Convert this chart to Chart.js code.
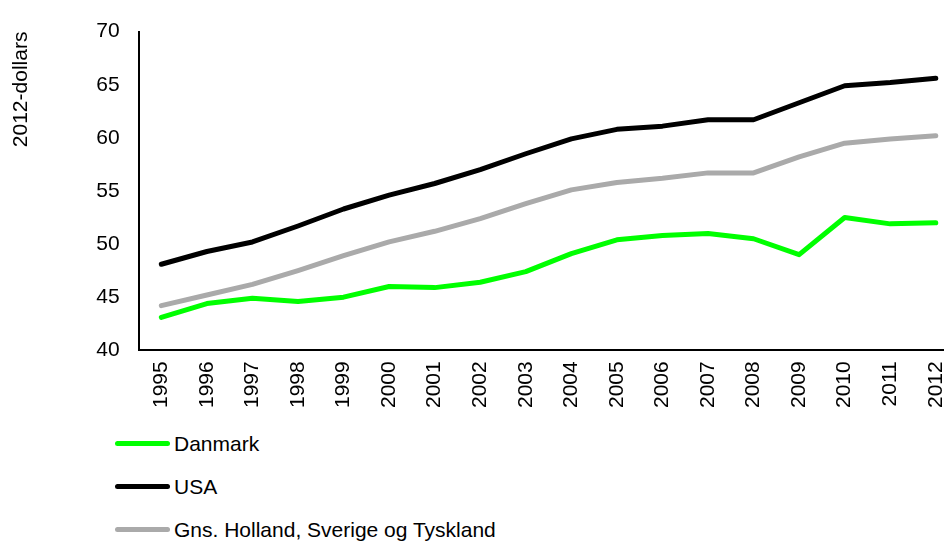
<!DOCTYPE html>
<html>
<head>
<meta charset="utf-8">
<script src="https://cdn.jsdelivr.net/npm/chart.js@4"></script>
<style>
  html, body { margin: 0; padding: 0; background: #fff; }
  body { width: 944px; height: 541px; overflow: hidden; position: relative; font-family: "Liberation Sans", Arial, sans-serif; }
  #chart { position: absolute; left: 0; top: 0; }
  #legend { position: absolute; left: 115px; top: 422px; }
  .item { display: flex; align-items: center; height: 43px; font-size: 21px; color: #000; }
  .swatch { width: 55px; height: 5px; border-radius: 3px; margin-right: 4px; }
</style>
</head>
<body>
<canvas id="chart" width="972" height="420"></canvas>
<div id="legend"></div>
<script>
// Years on the x axis
const years = ['1995', '1996', '1997', '1998', '1999', '2000', '2001', '2002', '2003',
               '2004', '2005', '2006', '2007', '2008', '2009', '2010', '2011', '2012'];

// Series values (2012-dollars)
const danmark = [43.1, 44.4, 44.9, 44.6, 45.0, 46.0, 45.9, 46.4, 47.4,
                 49.1, 50.4, 50.8, 51.0, 50.5, 49.0, 52.5, 51.9, 52.0];
const usa = [48.1, 49.3, 50.2, 51.7, 53.3, 54.6, 55.7, 57.0, 58.5,
             59.9, 60.8, 61.1, 61.7, 61.7, 63.3, 64.9, 65.2, 65.6];
const gns = [44.2, 45.2, 46.2, 47.5, 48.9, 50.2, 51.2, 52.4, 53.8,
             55.1, 55.8, 56.2, 56.7, 56.7, 58.2, 59.5, 59.9, 60.2];

// Y axis ticks
const yMin = 40;
const yMax = 70;
const yStep = 5;

const fontFamily = '"Liberation Sans", Arial, sans-serif';

function lineChartConfig() {
    const data = {
        labels: years,
        datasets: [
            { label: 'Danmark', data: danmark, borderColor: '#00ff00' },
            { label: 'USA', data: usa, borderColor: '#000000' },
            { label: 'Gns. Holland, Sverige og Tyskland', data: gns, borderColor: '#aaaaaa' }
        ].map(d => Object.assign(d, {
            borderWidth: 5,
            pointRadius: 0,
            tension: 0,
            fill: false,
            borderCapStyle: 'round',
            borderJoinStyle: 'round'
        }))
    };

    const config = {
        type: 'line',
        data: data,
        options: {
            responsive: false,
            animation: false,
            devicePixelRatio: 1,
            layout: { padding: { left: 4, top: 28, right: 0, bottom: 1 } },
            plugins: {
                legend: { display: false },
                tooltip: { enabled: false }
            },
            scales: {
                x: {
                    offset: true,
                    grid: { display: false, drawTicks: false },
                    border: { display: true, color: '#000', width: 2 },
                    ticks: {
                        color: '#000',
                        font: { family: fontFamily, size: 21 },
                        maxRotation: 90,
                        minRotation: 90,
                        padding: 11,
                        autoSkip: false
                    }
                },
                y: {
                    min: yMin,
                    max: yMax,
                    grid: { display: false, drawTicks: false },
                    border: { display: true, color: '#000', width: 2 },
                    ticks: {
                        stepSize: yStep,
                        color: '#000',
                        font: { family: fontFamily, size: 21 },
                        padding: 19
                    },
                    title: {
                        display: true,
                        text: '2012-dollars',
                        align: 'end',
                        color: '#000',
                        font: { family: fontFamily, size: 21 },
                        padding: { top: 5, bottom: 43 }
                    }
                }
            }
        }
    };
    return config;
}

const chart = new Chart(document.getElementById('chart'), lineChartConfig());

// Vertical legend below the chart
const legendEl = document.getElementById('legend');
chart.data.datasets.forEach(ds => {
    const item = document.createElement('div');
    item.className = 'item';
    const sw = document.createElement('span');
    sw.className = 'swatch';
    sw.style.background = ds.borderColor;
    const txt = document.createElement('span');
    txt.textContent = ds.label;
    item.appendChild(sw);
    item.appendChild(txt);
    legendEl.appendChild(item);
});
</script>
</body>
</html>
